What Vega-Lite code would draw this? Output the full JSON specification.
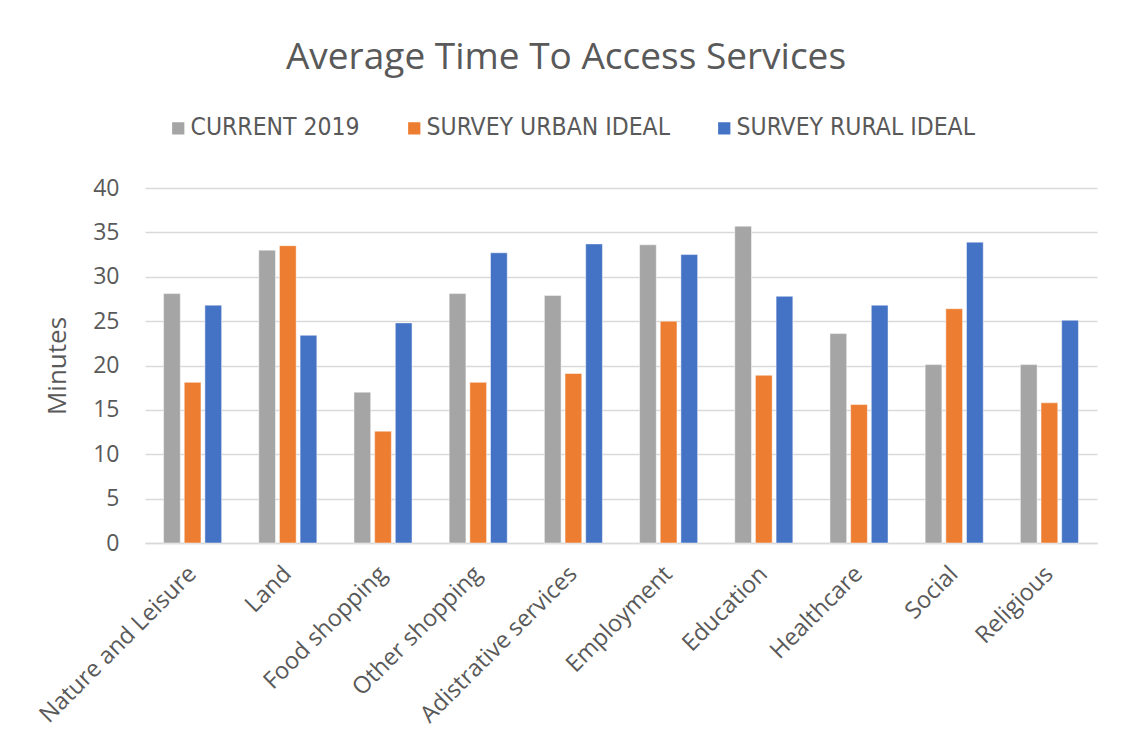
{
  "$schema": "https://vega.github.io/schema/vega-lite/v6.json",
  "width": 952,
  "height": 355,
  "autosize": "none",
  "padding": {"left": 145, "top": 188, "right": 25, "bottom": 208},
  "background": "white",
  "title": {
    "text": "Average Time To Access Services",
    "font": "Open Sans",
    "fontSize": 37,
    "fontWeight": "normal",
    "color": "#595959",
    "anchor": "middle",
    "frame": "bounds",
    "offset": 39
  },
  "data": {
    "values": [
      {"service": "Nature and Leisure", "series": "CURRENT 2019", "minutes": 28.1},
      {"service": "Nature and Leisure", "series": "SURVEY URBAN IDEAL", "minutes": 18.1},
      {"service": "Nature and Leisure", "series": "SURVEY RURAL IDEAL", "minutes": 26.8},
      {"service": "Land", "series": "CURRENT 2019", "minutes": 33.0},
      {"service": "Land", "series": "SURVEY URBAN IDEAL", "minutes": 33.5},
      {"service": "Land", "series": "SURVEY RURAL IDEAL", "minutes": 23.4},
      {"service": "Food shopping", "series": "CURRENT 2019", "minutes": 17.0},
      {"service": "Food shopping", "series": "SURVEY URBAN IDEAL", "minutes": 12.6},
      {"service": "Food shopping", "series": "SURVEY RURAL IDEAL", "minutes": 24.8},
      {"service": "Other shopping", "series": "CURRENT 2019", "minutes": 28.1},
      {"service": "Other shopping", "series": "SURVEY URBAN IDEAL", "minutes": 18.1},
      {"service": "Other shopping", "series": "SURVEY RURAL IDEAL", "minutes": 32.7},
      {"service": "Adistrative services", "series": "CURRENT 2019", "minutes": 27.9},
      {"service": "Adistrative services", "series": "SURVEY URBAN IDEAL", "minutes": 19.1},
      {"service": "Adistrative services", "series": "SURVEY RURAL IDEAL", "minutes": 33.7},
      {"service": "Employment", "series": "CURRENT 2019", "minutes": 33.6},
      {"service": "Employment", "series": "SURVEY URBAN IDEAL", "minutes": 25.0},
      {"service": "Employment", "series": "SURVEY RURAL IDEAL", "minutes": 32.5},
      {"service": "Education", "series": "CURRENT 2019", "minutes": 35.7},
      {"service": "Education", "series": "SURVEY URBAN IDEAL", "minutes": 18.9},
      {"service": "Education", "series": "SURVEY RURAL IDEAL", "minutes": 27.8},
      {"service": "Healthcare", "series": "CURRENT 2019", "minutes": 23.6},
      {"service": "Healthcare", "series": "SURVEY URBAN IDEAL", "minutes": 15.6},
      {"service": "Healthcare", "series": "SURVEY RURAL IDEAL", "minutes": 26.8},
      {"service": "Social", "series": "CURRENT 2019", "minutes": 20.1},
      {"service": "Social", "series": "SURVEY URBAN IDEAL", "minutes": 26.4},
      {"service": "Social", "series": "SURVEY RURAL IDEAL", "minutes": 33.9},
      {"service": "Religious", "series": "CURRENT 2019", "minutes": 20.1},
      {"service": "Religious", "series": "SURVEY URBAN IDEAL", "minutes": 15.8},
      {"service": "Religious", "series": "SURVEY RURAL IDEAL", "minutes": 25.1}
    ]
  },
  "mark": {"type": "bar", "stroke": "white", "strokeWidth": 0.8, "strokeOpacity": 0.6},
  "encoding": {
    "x": {
      "field": "service",
      "type": "nominal",
      "sort": null,
      "scale": {"paddingInner": 0.39, "paddingOuter": 0.195},
      "axis": {
        "title": null,
        "labelAngle": -45,
        "labelAlign": "right",
        "labelBaseline": "middle",
        "labelFont": "Open Sans",
        "labelFontSize": 23.5,
        "labelColor": "#595959",
        "labelPadding": 27,
        "labelLimit": 400,
        "ticks": false,
        "domainColor": "#d9d9d9",
        "domainWidth": 1.5,
        "grid": false
      }
    },
    "xOffset": {
      "field": "series",
      "type": "nominal",
      "sort": ["CURRENT 2019", "SURVEY URBAN IDEAL", "SURVEY RURAL IDEAL"],
      "scale": {"paddingInner": 0.19, "paddingOuter": 0}
    },
    "y": {
      "field": "minutes",
      "type": "quantitative",
      "scale": {"domain": [0, 40]},
      "axis": {
        "title": "Minutes",
        "titleFont": "Open Sans",
        "titleFontSize": 26,
        "titleFontWeight": "normal",
        "titleColor": "#595959",
        "titlePadding": 22,
        "values": [0, 5, 10, 15, 20, 25, 30, 35, 40],
        "labelFont": "Open Sans",
        "labelFontSize": 23,
        "labelColor": "#595959",
        "labelPadding": 26,
        "ticks": false,
        "domain": false,
        "gridColor": "#d9d9d9",
        "gridWidth": 1.5
      }
    },
    "color": {
      "field": "series",
      "type": "nominal",
      "sort": ["CURRENT 2019", "SURVEY URBAN IDEAL", "SURVEY RURAL IDEAL"],
      "scale": {
        "domain": ["CURRENT 2019", "SURVEY URBAN IDEAL", "SURVEY RURAL IDEAL"],
        "range": ["#a5a5a5", "#ed7d31", "#4472c4"]
      },
      "legend": {
        "title": null,
        "orient": "none",
        "legendX": 21,
        "legendY": -72,
        "direction": "horizontal",
        "symbolType": "square",
        "symbolSize": 150,
        "symbolStrokeWidth": 0,
        "labelFont": "DejaVu Sans Condensed",
        "labelFontSize": 24.5,
        "labelLimit": 400,
        "labelColor": "#595959",
        "labelOffset": 0,
        "columnPadding": 42
      }
    }
  },
  "config": {
    "view": {"stroke": null}
  }
}
